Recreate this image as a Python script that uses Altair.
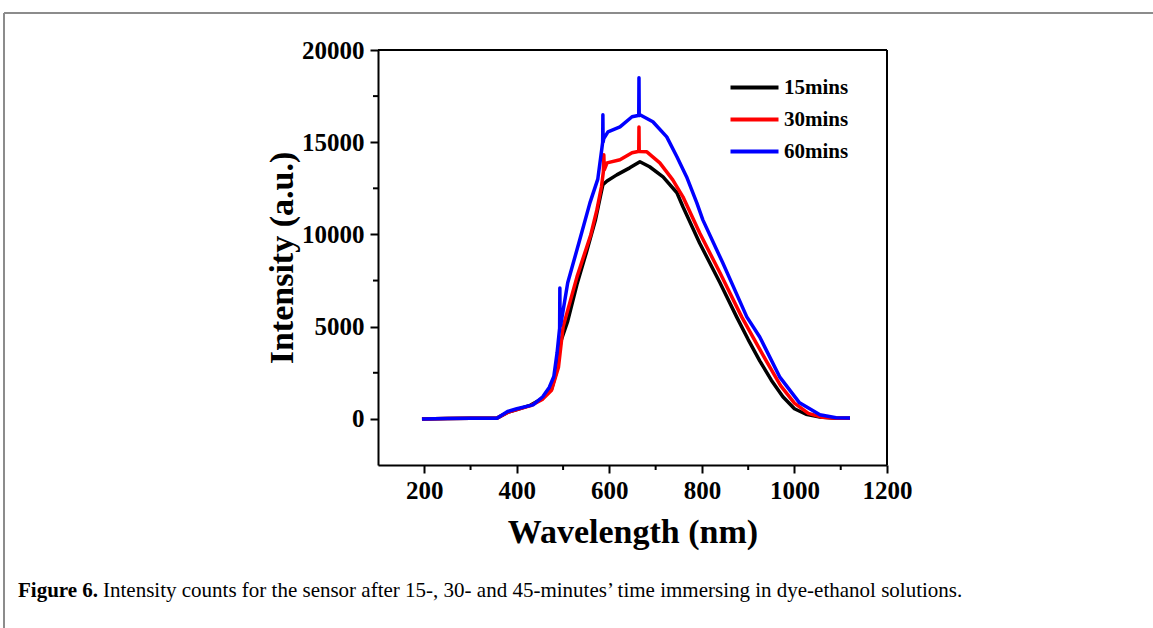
import altair as alt
import pandas as pd

# ---- data ----
wl_15 = [195, 250, 300, 357, 380, 400, 430, 455, 475, 485, 495, 510, 530, 550, 570, 580, 586,
         595, 616, 644, 666, 687, 716, 746, 759, 795, 839, 875, 900, 925, 950, 975, 1000,
         1025, 1055, 1090, 1120]
int_15 = [0, 20, 30, 40, 350, 500, 750, 1100, 1600, 2500, 4200, 5300, 7300, 9000, 10800, 12000, 12700,
          12900, 13230, 13610, 13940, 13670, 13120, 12260, 11500, 9540, 7380, 5530, 4300, 3150, 2100, 1200, 550,
          250, 100, 40, 30]

wl_30 = [195, 250, 300, 357, 380, 400, 430, 455, 475, 490, 500, 530, 560, 573, 583, 587, 588, 589,
         595, 623, 649, 662, 663.5, 664, 664.5, 666, 681, 709, 737, 759, 795, 839, 886, 910,
         940, 970, 1000, 1030, 1060, 1090, 1120]
int_30 = [0, 20, 30, 40, 350, 500, 720, 1050, 1550, 2800, 4990, 7700, 10000, 11330, 12600, 13400, 14320, 13500,
          13880, 14050, 14430, 14500, 14500, 15830, 14500, 14500, 14480, 13880, 12960, 12040, 10090, 7920, 5530, 4450,
          3100, 1800, 850, 300, 90, 40, 30]

wl_60 = [195, 250, 300, 357, 380, 400, 435, 456, 470, 480, 487, 492, 492.5, 493, 493.5, 495, 510, 536, 558,
         575, 584, 585.5, 586, 586.5, 588, 597, 623, 649, 662, 663.5, 664, 664.5, 666, 694, 724, 746,
         767, 789, 802, 845, 897, 925, 968, 1011, 1055, 1090, 1120]
int_60 = [0, 20, 30, 40, 400, 550, 760, 1200, 1700, 2300, 3580, 4800, 4900, 7100, 5000, 5100, 7380, 9710, 11710,
          13000, 14700, 15000, 16490, 15000, 15200, 15560, 15830, 16380, 16450, 16450, 18490, 16450, 16490, 16110, 15290, 14210,
          13120, 11710, 10790, 8460, 5530, 4440, 2280, 870, 220, 60, 50]

series_names = ["15mins", "30mins", "60mins"]
series_colors = ["#000000", "#ff0000", "#0000ff"]

x_major = [200, 400, 600, 800, 1000, 1200]
x_minor = [300, 500, 700, 900, 1100]
y_major = [0, 5000, 10000, 15000, 20000]
y_minor = [2500, 7500, 12500, 17500]

caption_bold = "Figure 6."
caption_rest = ("Intensity counts for the sensor after 15-, 30- and 45-minutes\u2019 time "
                "immersing in dye-ethanol solutions.")

# ---- build tables ----
rows = []
for name, wls, vals in [(series_names[0], wl_15, int_15),
                        (series_names[1], wl_30, int_30),
                        (series_names[2], wl_60, int_60)]:
    for i, (w, v) in enumerate(zip(wls, vals)):
        rows.append({"wl": w, "I": v, "series": name, "idx": i})
df = pd.DataFrame(rows)

FONT = "Liberation Serif"
W, H = 509, 415

xscale = alt.Scale(domain=[100, 1200], nice=False, zero=False)
yscale = alt.Scale(domain=[-2500, 20000], nice=False, zero=False)

lines = alt.Chart(df).mark_line(strokeWidth=3.5, strokeJoin="round").encode(
    x=alt.X("wl:Q", scale=xscale,
            axis=alt.Axis(values=x_major, format="d", title="Wavelength (nm)", grid=False,
                          labelFontSize=25, labelFont=FONT, labelFontWeight="bold",
                          titleFontSize=34, titleFont=FONT, titleFontWeight="bold",
                          titlePadding=12, labelPadding=5, tickSize=8, tickWidth=2,
                          domainWidth=2, domainColor="black", tickColor="black",
                          labelColor="black", titleColor="black", labelFlush=False)),
    y=alt.Y("I:Q", scale=yscale,
            axis=alt.Axis(values=y_major, format="d", title="Intensity (a.u.)", grid=False,
                          labelFontSize=25, labelFont=FONT, labelFontWeight="bold",
                          titleFontSize=34, titleFont=FONT, titleFontWeight="bold",
                          titlePadding=2, labelPadding=6, tickSize=8, tickWidth=2,
                          domainWidth=2, domainColor="black", tickColor="black",
                          labelColor="black", titleColor="black", labelFlush=False)),
    color=alt.Color("series:N",
                    scale=alt.Scale(domain=series_names, range=series_colors),
                    legend=alt.Legend(title="", orient="none",
                                      legendX=366, legendY=27, padding=0,
                                      symbolType="M-3,0L3,0", symbolSize=256,
                                      symbolStrokeWidth=4, labelOffset=19,
                                      labelFontSize=21, labelFont=FONT,
                                      labelFontWeight="bold", labelColor="black",
                                      rowPadding=10)),
    order=alt.Order("idx:Q"),
)

xminor = alt.Chart(pd.DataFrame({"v": x_minor})).mark_rule(color="black", strokeWidth=2).encode(
    x=alt.X("v:Q", scale=xscale), y=alt.value(H), y2=alt.value(H + 5))
yminor = alt.Chart(pd.DataFrame({"v": y_minor})).mark_rule(color="black", strokeWidth=2).encode(
    y=alt.Y("v:Q", scale=yscale), x=alt.value(-5), x2=alt.value(0))

frame_df = pd.DataFrame({"k": [0]})
box_top = alt.Chart(frame_df).mark_rule(color="black", strokeWidth=2).encode(
    x=alt.value(0), x2=alt.value(W), y=alt.value(0))
box_right = alt.Chart(frame_df).mark_rule(color="black", strokeWidth=2).encode(
    x=alt.value(W), y=alt.value(0), y2=alt.value(H))
frame_top = alt.Chart(frame_df).mark_rule(color="#8c8c8c", strokeWidth=2).encode(
    x=alt.value(-374), x2=alt.value(800), y=alt.value(-37))
frame_left = alt.Chart(frame_df).mark_rule(color="#8c8c8c", strokeWidth=2).encode(
    x=alt.value(-374), y=alt.value(-37), y2=alt.value(600))

cap1 = alt.Chart(pd.DataFrame({"t": [caption_bold]})).mark_text(
    align="left", baseline="middle", font=FONT, fontWeight="bold", fontSize=21, color="black").encode(
    text="t:N", x=alt.value(-360), y=alt.value(541))
cap2 = alt.Chart(pd.DataFrame({"t": [caption_rest]})).mark_text(
    align="left", baseline="middle", font=FONT, fontSize=21, color="black").encode(
    text="t:N", x=alt.value(-275), y=alt.value(541))

chart = alt.layer(frame_top, frame_left, lines, xminor, yminor, box_top, box_right, cap1, cap2).properties(
    width=W, height=H,
    autosize=alt.AutoSizeParams(type="none"),
    padding={"left": 378, "top": 50, "right": 266, "bottom": 163},
).configure_view(stroke=None if False else "transparent").configure(background="white")

chart.save("out.html", embed_options={"renderer": "svg", "actions": False})
